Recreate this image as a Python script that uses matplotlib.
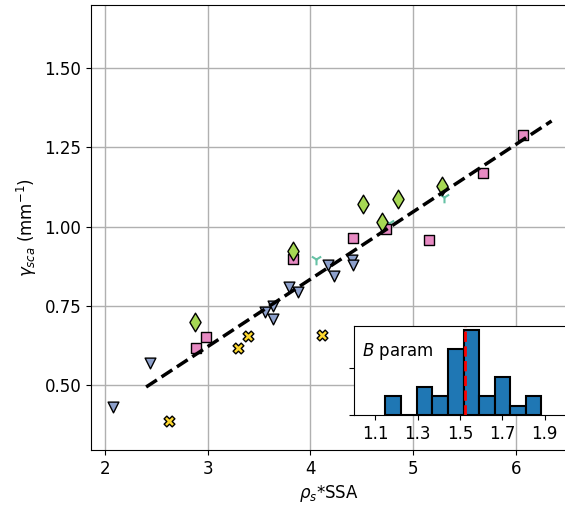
import numpy as np
import matplotlib
matplotlib.use('Agg')
import matplotlib.pyplot as plt

plt.rcParams['font.size'] = 12

# scatter groups (rho_s*SSA, gamma_sca)
tri_x = [4.056, 4.770, 5.300]
tri_y = [0.896, 1.011, 1.094]

vee_x = [2.081, 2.439, 3.559, 3.634, 3.634, 3.796, 3.878, 4.167, 4.235, 4.405, 4.420]
vee_y = [0.431, 0.569, 0.729, 0.750, 0.708, 0.808, 0.792, 0.877, 0.843, 0.893, 0.880]

sq_x = [2.887, 2.984, 3.835, 4.412, 4.739, 5.155, 5.678, 6.071]
sq_y = [0.616, 0.651, 0.896, 0.963, 0.993, 0.959, 1.170, 1.289]

dia_x = [2.877, 3.835, 4.512, 4.697, 4.849, 5.285]
dia_y = [0.697, 0.922, 1.072, 1.014, 1.088, 1.128]

cross_x = [2.624, 3.296, 3.397, 4.118]
cross_y = [0.387, 0.617, 0.655, 0.656]

# linear fit
fit_slope = 0.2128
fit_icpt = -0.0177
fit_x = np.array([2.40, 6.35])

# histogram of B param
b_edges = [1.147, 1.221, 1.296, 1.368, 1.442, 1.517, 1.589, 1.663, 1.737, 1.810, 1.884]
b_counts = [2, 0, 3, 2, 7, 9, 2, 4, 1, 2]
b_mean = 1.523

fig = plt.figure(figsize=(5.65, 5.08), dpi=100)
ax = fig.add_axes([91/565, 58/508, 476/565, 445/508])

ax.scatter(tri_x, tri_y, marker='1', s=70, color='#66c2a5', zorder=3)
ax.scatter(vee_x, vee_y, marker='v', s=60, color='#8da0cb', edgecolor='black', lw=1, zorder=3)
ax.scatter(sq_x, sq_y, marker='s', s=48, color='#e78ac3', edgecolor='black', lw=1, zorder=3)
ax.scatter(dia_x, dia_y, marker='d', s=90, color='#a6d854', edgecolor='black', lw=1, zorder=3)
ax.scatter(cross_x, cross_y, marker='X', s=60, color='#ffd92f', edgecolor='black', lw=1, zorder=3)
ax.plot(fit_x, fit_slope * fit_x + fit_icpt, 'k--', lw=2.5, zorder=4)

ax.set_xlim(1.863, 6.50)
ax.set_ylim(0.294, 1.70)
ax.set_xticks([2, 3, 4, 5, 6])
ax.set_yticks([0.5, 0.75, 1.0, 1.25, 1.5])
ax.set_yticklabels(['0.50', '0.75', '1.00', '1.25', '1.50'])
ax.grid(True, color='#b0b0b0', lw=1)
ax.set_axisbelow(True)
ax.set_xlabel(r'$\rho_s$*SSA')
ax.set_ylabel(r'$\gamma_{sca}$ (mm$^{-1}$)')

ins = fig.add_axes([354/565, 93/508, 212/565, 89/508])
ins.bar(b_edges[:-1], b_counts, width=np.diff(b_edges), align='edge',
        color='#1f77b4', edgecolor='black', lw=1.5)
ins.axvline(b_mean, color='red', ls='--', lw=2)
ins.set_xlim(1.0, 2.0)
ins.set_ylim(0, 9.45)
ins.set_xticks([1.1, 1.3, 1.5, 1.7, 1.9])
ins.set_yticks([0, 5])
ins.set_yticklabels([])
ins.text(0.04, 0.71, r'$B$ param', transform=ins.transAxes, va='center', ha='left')

fig.savefig('out.png', dpi=100)
